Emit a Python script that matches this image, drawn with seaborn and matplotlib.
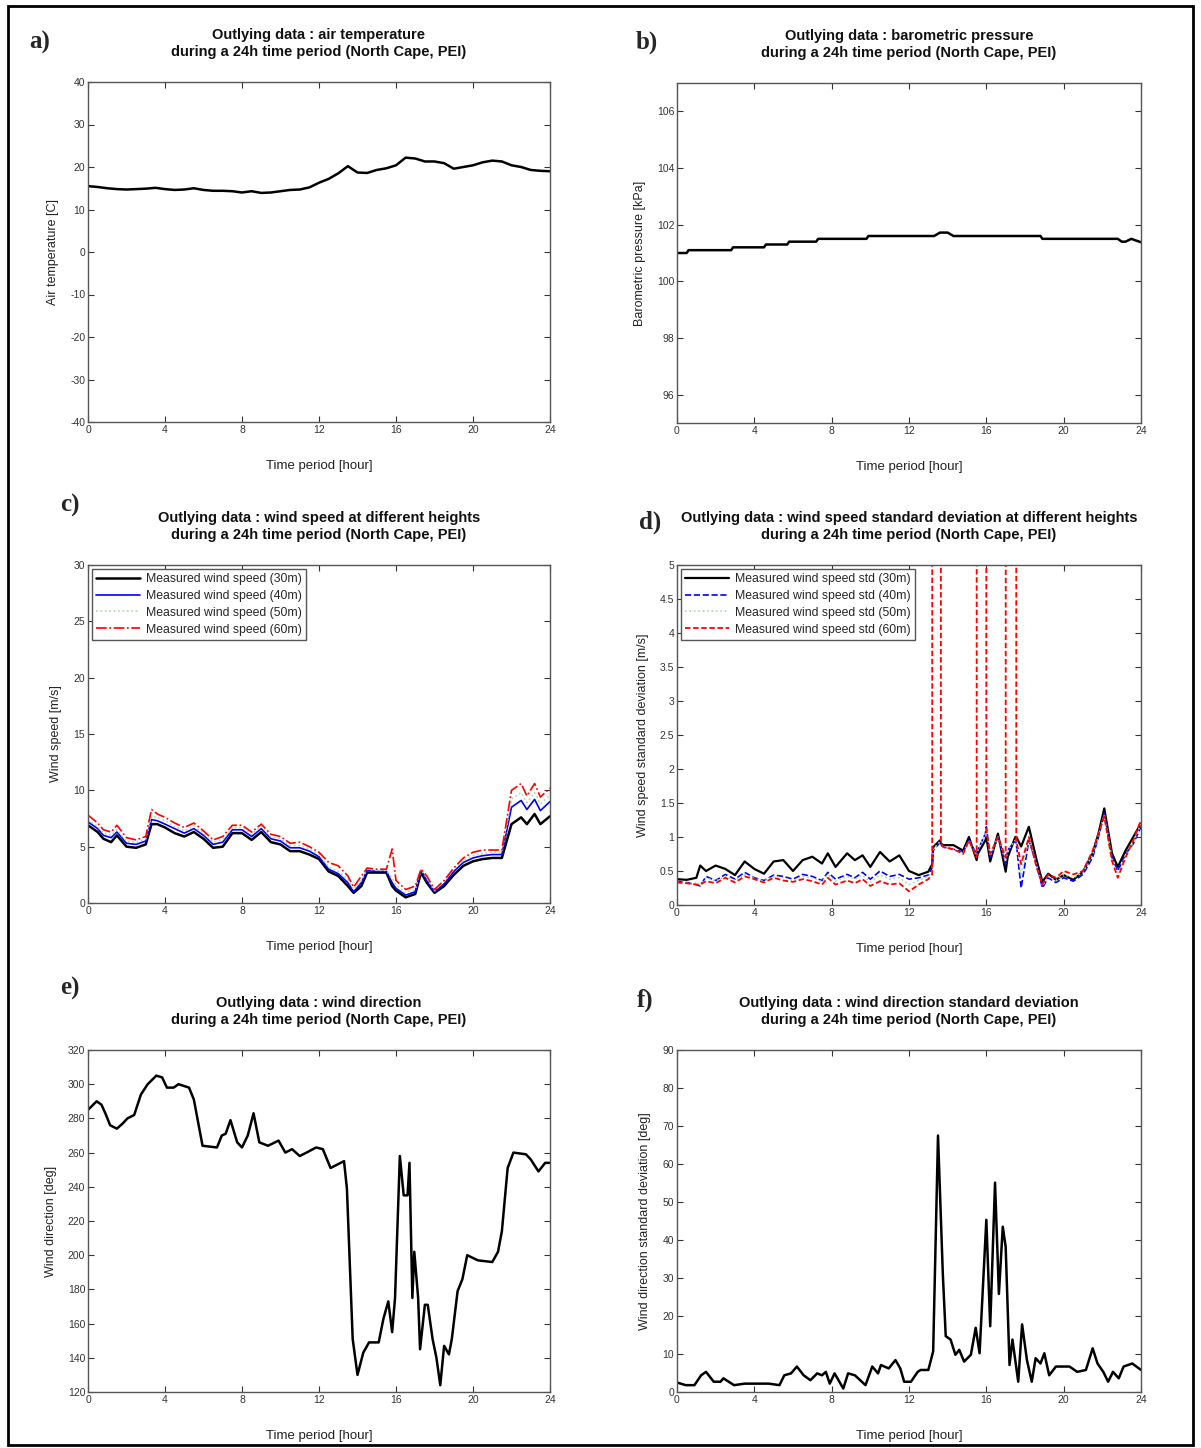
import matplotlib
matplotlib.use("Agg")
import matplotlib.pyplot as plt
from matplotlib.patches import Rectangle
import seaborn as sns

# ---------------- data ----------------
hour_ticks = [0, 4, 8, 12, 16, 20, 24]

# a) air temperature
t_air = [0, 0.5, 1, 1.5, 2, 2.5, 3, 3.5, 4, 4.5, 5, 5.5, 6, 6.5, 7, 7.5, 8, 8.5, 9, 9.5,
         10, 10.5, 11, 11.5, 12, 12.5, 13, 13.5, 14, 14.5, 15, 15.5, 16, 16.5, 17, 17.5,
         18, 18.5, 19, 19.5, 20, 20.5, 21, 21.5, 22, 22.5, 23, 23.5, 24]
air_temp = [15.5, 15.3, 15.0, 14.8, 14.7, 14.8, 14.9, 15.1, 14.8, 14.6,
            14.7, 15.0, 14.6, 14.4, 14.4, 14.3, 14.0, 14.3, 13.9, 14.0,
            14.3, 14.6, 14.7, 15.2, 16.3, 17.2, 18.5, 20.2, 18.7, 18.6,
            19.3, 19.7, 20.4, 22.2, 22.0, 21.3, 21.3, 20.9, 19.6, 20.0,
            20.4, 21.1, 21.5, 21.3, 20.4, 20.0, 19.3, 19.1, 19.0]

# b) barometric pressure
t_press = [0, 0.5, 0.6, 2.8, 2.9, 4.5, 4.6, 5.7, 5.8, 7.2, 7.3, 9.8, 9.9, 13.3, 13.6,
           14.0, 14.3, 18.8, 18.9, 22.8, 23.0, 23.2, 23.5, 23.7, 24]
pressure = [101.0, 101.0, 101.1, 101.1, 101.2, 101.2, 101.3, 101.3, 101.4, 101.4,
            101.5, 101.5, 101.6, 101.6, 101.72, 101.72, 101.6, 101.6, 101.5, 101.5,
            101.4, 101.4, 101.5, 101.45, 101.38]

# c) wind speed at different heights
t_ws = [0, 0.5, 0.8, 1.2, 1.5, 2, 2.5, 3, 3.3, 3.6, 4, 4.5, 5, 5.5, 6, 6.5, 7, 7.5, 8, 8.5,
        9, 9.5, 10, 10.5, 11, 11.5, 12, 12.5, 13, 13.5, 13.8, 14.2, 14.5, 15, 15.5, 15.8,
        16, 16.5, 17, 17.3, 17.6, 18, 18.5, 19, 19.5, 20, 20.5, 21, 21.5, 22, 22.5, 22.8,
        23.2, 23.5, 24]
ws_30 = [6.9, 6.3, 5.7, 5.4, 6.0, 5.0, 4.9, 5.2, 7.0, 7.0,
         6.7, 6.2, 5.9, 6.3, 5.7, 4.9, 5.0, 6.2, 6.2, 5.6,
         6.3, 5.4, 5.2, 4.6, 4.6, 4.3, 3.9, 2.8, 2.4, 1.5,
         0.9, 1.5, 2.7, 2.7, 2.7, 1.5, 1.1, 0.5, 0.8, 2.7,
         1.8, 0.9, 1.5, 2.5, 3.3, 3.7, 3.9, 4.0, 4.0, 7.0,
         7.6, 7.0, 7.9, 7.0, 7.7]
ws_40 = [7.2, 6.6, 6.0, 5.8, 6.3, 5.3, 5.2, 5.5, 7.4, 7.3,
         7.0, 6.6, 6.2, 6.6, 6.0, 5.2, 5.4, 6.5, 6.5, 5.9,
         6.6, 5.7, 5.5, 4.9, 4.9, 4.6, 4.1, 3.0, 2.6, 1.8,
         1.0, 1.8, 2.9, 2.8, 2.8, 1.8, 1.3, 0.7, 1.0, 2.9,
         2.0, 1.0, 1.7, 2.8, 3.6, 4.0, 4.2, 4.3, 4.3, 8.5,
         9.1, 8.3, 9.2, 8.2, 9.0]
ws_50 = [7.4, 6.8, 6.2, 6.0, 6.5, 5.5, 5.4, 5.7, 7.7, 7.6,
         7.3, 6.8, 6.4, 6.8, 6.2, 5.4, 5.6, 6.7, 6.7, 6.1,
         6.8, 5.9, 5.7, 5.1, 5.1, 4.8, 4.3, 3.2, 2.8, 2.1,
         1.2, 2.0, 3.0, 2.9, 2.9, 2.2, 1.6, 0.9, 1.2, 3.0,
         2.2, 1.1, 1.9, 3.0, 3.8, 4.2, 4.4, 4.5, 4.5, 9.2,
         9.8, 8.9, 9.8, 8.8, 9.6]
ws_60 = [7.8, 7.1, 6.5, 6.3, 6.9, 5.8, 5.6, 5.9, 8.3, 7.9,
         7.6, 7.1, 6.7, 7.1, 6.4, 5.6, 5.9, 6.9, 6.9, 6.3,
         7.0, 6.1, 5.9, 5.3, 5.4, 5.0, 4.5, 3.6, 3.3, 2.4,
         1.4, 2.4, 3.1, 3.0, 3.0, 4.8, 2.0, 1.2, 1.5, 3.0,
         2.4, 1.2, 2.0, 3.1, 4.0, 4.5, 4.7, 4.7, 4.7, 10.0,
         10.6, 9.5, 10.6, 9.4, 10.2]

# d) wind speed standard deviation (60m sensor has out-of-range outliers)
t_std = [0, 0.5, 1, 1.2, 1.5, 2, 2.5, 3, 3.5, 4, 4.5, 5, 5.5, 6, 6.5, 7, 7.5, 7.8, 8.2, 8.8,
         9.2, 9.6, 10, 10.5, 11, 11.5, 12, 12.5, 13, 13.2, 13.25, 13.6, 13.65, 13.8, 14.3,
         14.8, 15.1, 15.5, 15.55, 15.95, 16.0, 16.2, 16.6, 17.0, 17.1, 17.5, 17.55, 17.8,
         18.2, 18.6, 18.9, 19.2, 19.6, 20, 20.5, 21, 21.5, 21.8, 22.1, 22.5, 22.8, 23.2,
         23.6, 24]
std_30 = [0.38, 0.37, 0.40, 0.58, 0.50, 0.58, 0.53, 0.44, 0.64, 0.53,
          0.46, 0.64, 0.66, 0.50, 0.66, 0.71, 0.61, 0.76, 0.56, 0.76,
          0.66, 0.73, 0.56, 0.78, 0.64, 0.73, 0.50, 0.44, 0.49, 0.60,
          0.85, 0.95, 0.90, 0.88, 0.88, 0.80, 1.00, 0.66, 0.75, 0.95,
          1.00, 0.64, 1.05, 0.49, 0.70, 1.00, 1.00, 0.86, 1.15, 0.66,
          0.34, 0.46, 0.37, 0.44, 0.37, 0.49, 0.76, 1.05, 1.42, 0.76,
          0.56, 0.80, 1.00, 1.20]
std_40 = [0.35, 0.33, 0.30, 0.28, 0.42, 0.36, 0.45, 0.38, 0.48, 0.40,
          0.36, 0.44, 0.42, 0.38, 0.45, 0.42, 0.36, 0.48, 0.38, 0.45,
          0.40, 0.48, 0.38, 0.50, 0.42, 0.45, 0.38, 0.40, 0.44, 0.55,
          0.80, 0.92, 0.88, 0.85, 0.82, 0.78, 0.95, 0.75, 0.80, 1.05,
          1.15, 0.70, 1.00, 0.60, 0.80, 0.95, 0.90, 0.25, 0.95, 0.60,
          0.25, 0.40, 0.33, 0.40, 0.35, 0.45, 0.70, 1.00, 1.35, 0.70,
          0.50, 0.75, 0.90, 1.15]
std_50 = [0.34, 0.33, 0.32, 0.30, 0.40, 0.35, 0.42, 0.36, 0.45, 0.39,
          0.35, 0.42, 0.40, 0.36, 0.42, 0.40, 0.34, 0.45, 0.35, 0.42,
          0.38, 0.44, 0.34, 0.44, 0.38, 0.40, 0.30, 0.36, 0.42, 0.50,
          0.82, 0.93, 0.89, 0.85, 0.82, 0.76, 0.95, 0.72, 0.80, 1.05,
          1.12, 0.72, 1.00, 0.65, 0.80, 0.95, 0.92, 0.45, 0.98, 0.58,
          0.28, 0.42, 0.36, 0.45, 0.40, 0.48, 0.75, 1.02, 1.32, 0.68,
          0.45, 0.72, 0.92, 1.20]
std_60 = [0.33, 0.32, 0.30, 0.30, 0.35, 0.32, 0.40, 0.33, 0.42, 0.38,
          0.33, 0.40, 0.36, 0.34, 0.38, 0.35, 0.30, 0.40, 0.30, 0.36,
          0.32, 0.38, 0.28, 0.35, 0.30, 0.32, 0.20, 0.30, 0.38, 0.45,
          99.0, 99.0, 0.90, 0.85, 0.82, 0.75, 0.95, 0.70, 99.0, 99.0,
          1.10, 0.75, 1.00, 0.70, 99.0, 99.0, 0.95, 0.60, 1.00, 0.55,
          0.30, 0.45, 0.40, 0.50, 0.45, 0.50, 0.80, 1.05, 1.30, 0.65,
          0.40, 0.70, 0.95, 1.25]

# e) wind direction
t_dir = [0, 0.45, 0.7, 0.9, 1.15, 1.5, 1.8, 2.05, 2.4, 2.75, 3.1, 3.55, 3.85, 4.1, 4.45,
         4.7, 5.25, 5.5, 5.95, 6.7, 6.95, 7.15, 7.4, 7.75, 8.0, 8.3, 8.6, 8.9, 9.35, 9.9,
         10.25, 10.6, 11.0, 11.35, 11.85, 12.2, 12.6, 12.95, 13.3, 13.45, 13.75, 14.0,
         14.3, 14.6, 15.1, 15.35, 15.6, 15.8, 15.95, 16.2, 16.4, 16.6, 16.7, 16.85, 16.95,
         17.15, 17.25, 17.5, 17.65, 17.9, 18.1, 18.3, 18.5, 18.75, 18.9, 19.2, 19.45, 19.7,
         20.25, 21.0, 21.3, 21.5, 21.8, 22.1, 22.75, 23.0, 23.4, 23.75, 24]
wind_dir = [285, 290, 288, 283, 276, 274, 277, 280, 282, 294,
            300, 305, 304, 298, 298, 300, 298, 291, 264, 263,
            270, 271, 279, 266, 263, 270, 283, 266, 264, 267,
            260, 262, 258, 260, 263, 262, 251, 253, 255, 239,
            151, 130, 143, 149, 149, 163, 173, 155, 175, 258,
            235, 235, 254, 175, 202, 175, 145, 171, 171, 151,
            140, 124, 147, 142, 151, 179, 186, 200, 197, 196,
            202, 214, 251, 260, 259, 256, 249, 254, 254]

# f) wind direction standard deviation
t_dstd = [0, 0.45, 0.9, 1.25, 1.5, 1.9, 2.25, 2.4, 2.95, 3.5, 4.75, 5.3, 5.55, 5.9, 6.2,
          6.55, 6.9, 7.25, 7.5, 7.7, 7.9, 8.15, 8.4, 8.6, 8.85, 9.2, 9.75, 10.1, 10.4,
          10.55, 10.95, 11.3, 11.55, 11.75, 12.1, 12.45, 12.6, 13.0, 13.25, 13.5, 13.75,
          13.9, 14.15, 14.4, 14.6, 14.85, 15.2, 15.45, 15.65, 16.0, 16.2, 16.45, 16.65,
          16.85, 17.0, 17.2, 17.35, 17.65, 17.85, 18.1, 18.35, 18.55, 18.8, 19.0, 19.25,
          19.6, 20.3, 20.7, 21.15, 21.5, 21.75, 22.05, 22.3, 22.55, 22.85, 23.1, 23.55, 24]
dir_std = [2.5, 1.8, 1.8, 4.4, 5.3, 2.7, 2.7, 3.6, 1.8, 2.2,
           2.2, 1.8, 4.4, 4.9, 6.7, 4.4, 3.1, 4.9, 4.4, 5.3,
           2.2, 4.9, 2.7, 0.9, 4.9, 4.4, 1.8, 6.7, 4.9, 7.1,
           6.2, 8.4, 6.2, 2.7, 2.7, 5.3, 5.8, 5.8, 10.7, 67.5,
           31.0, 14.7, 13.8, 9.8, 11.1, 8.0, 9.8, 16.9, 10.2, 45.3,
           17.3, 55.1, 25.8, 43.5, 38.2, 7.1, 13.8, 2.7, 17.8, 8.4,
           2.7, 8.9, 7.5, 10.2, 4.4, 6.7, 6.7, 5.3, 5.8, 11.5,
           7.5, 5.3, 2.7, 5.3, 3.6, 6.7, 7.5, 5.8]

heights = ["30m", "40m", "50m", "60m"]

# ---------------- figure ----------------
sns.set_theme(style="ticks")
plt.rcParams["font.family"] = ["Liberation Sans", "DejaVu Sans"]
plt.rcParams["axes.unicode_minus"] = False

fig = plt.figure(figsize=(12.01, 14.48), dpi=100)
W, H = 1201.0, 1448.0


def make_ax(x0, x1, y0, y1):
    # pixel box -> figure fraction
    return fig.add_axes([x0 / W, 1 - y1 / H, (x1 - x0) / W, (y1 - y0) / H])


def style(ax, ylim, yticks, ylabel, title, ylab=None):
    ax.set_xlim(0, 24)
    ax.set_xticks(hour_ticks)
    ax.set_ylim(*ylim)
    ax.set_yticks(yticks)
    if ylab is not None:
        ax.set_yticklabels(ylab)
    ax.tick_params(direction="in", top=True, right=True, length=4, width=0.8,
                   labelsize=7.5, colors="#333333", pad=2)
    for sp in ax.spines.values():
        sp.set_visible(True)
        sp.set_color("#555555")
        sp.set_linewidth(1.0)
    ax.set_xlabel("Time period [hour]", fontsize=9.5, labelpad=18, color="#222222")
    ax.set_ylabel(ylabel, fontsize=9, labelpad=8, color="#222222")
    ax.set_title(title, fontsize=10.5, pad=19, color="#111111", linespacing=1.2,
                 fontweight="bold")


def add_legend(ax):
    ax.legend(loc="upper left", fontsize=8.8, frameon=True, fancybox=False,
              edgecolor="#555555", handlelength=3.6, handletextpad=0.5,
              borderaxespad=0.3, borderpad=0.35, labelspacing=0.4, framealpha=1)


ax_a = make_ax(88, 550, 82, 422)
ax_b = make_ax(677, 1141, 83, 423)
ax_c = make_ax(88, 550, 565, 903)
ax_d = make_ax(677, 1141, 565, 905)
ax_e = make_ax(88, 550, 1050, 1392)
ax_f = make_ax(677, 1141, 1050, 1392)

sns.lineplot(x=t_air, y=air_temp, ax=ax_a, color="black", linewidth=1.8)
style(ax_a, (-40, 40), range(-40, 41, 10), "Air temperature [C]",
      "Outlying data : air temperature\nduring a 24h time period (North Cape, PEI)")

sns.lineplot(x=t_press, y=pressure, ax=ax_b, color="black", linewidth=1.8)
style(ax_b, (95, 107), range(96, 107, 2), "Barometric pressure [kPa]",
      "Outlying data : barometric pressure\nduring a 24h time period (North Cape, PEI)")

# c)
ws_series = [ws_30, ws_40, ws_50, ws_60]
ws_styles = [("black", "-", 1.8), ("blue", "-", 1.2), ("#a8dca8", ":", 1.2), ("red", "-.", 1.2)]
for h, vals, (col, ls, lw) in zip(heights, ws_series, ws_styles):
    sns.lineplot(x=t_ws, y=vals, ax=ax_c, color=col, linestyle=ls, linewidth=lw,
                 label="Measured wind speed (%s)" % h)
style(ax_c, (0, 30), range(0, 31, 5), "Wind speed [m/s]",
      "Outlying data : wind speed at different heights\nduring a 24h time period (North Cape, PEI)")
add_legend(ax_c)

# d)
std_series = [std_30, std_40, std_50, std_60]
std_styles = [("black", "-", 1.6), ("blue", "--", 1.2), ("#a8dca8", ":", 1.2), ("red", (0, (3, 1.5)), 1.3)]
for h, vals, (col, ls, lw) in zip(heights, std_series, std_styles):
    sns.lineplot(x=t_std, y=vals, ax=ax_d, color=col, linestyle=ls, linewidth=lw,
                 label="Measured wind speed std (%s)" % h)
style(ax_d, (0, 5), [i * 0.5 for i in range(11)], "Wind speed standard deviation [m/s]",
      "Outlying data : wind speed standard deviation at different heights\nduring a 24h time period (North Cape, PEI)",
      ylab=["0", "0.5", "1", "1.5", "2", "2.5", "3", "3.5", "4", "4.5", "5"])
add_legend(ax_d)

sns.lineplot(x=t_dir, y=wind_dir, ax=ax_e, color="black", linewidth=1.8)
style(ax_e, (120, 320), range(120, 321, 20), "Wind direction [deg]",
      "Outlying data : wind direction\nduring a 24h time period (North Cape, PEI)")

sns.lineplot(x=t_dstd, y=dir_std, ax=ax_f, color="black", linewidth=1.8)
style(ax_f, (0, 90), range(0, 91, 10), "Wind direction standard deviation [deg]",
      "Outlying data : wind direction standard deviation\nduring a 24h time period (North Cape, PEI)")

# panel letters
letters = [("a)", 40, 42), ("b)", 647, 42), ("c)", 70, 505),
           ("d)", 650, 522), ("e)", 70, 988), ("f)", 645, 1000)]
for txt, px, py in letters:
    fig.text(px / W, 1 - py / H, txt, fontsize=18, fontweight="bold",
             family=["Liberation Serif", "DejaVu Serif"], ha="center", va="center")

# outer frame
fig.add_artist(Rectangle((8 / W, 3 / H), 1185 / W, 1439 / H, transform=fig.transFigure,
                         fill=False, edgecolor="black", linewidth=2.0))

fig.savefig("out.png", dpi=100, facecolor="white")
